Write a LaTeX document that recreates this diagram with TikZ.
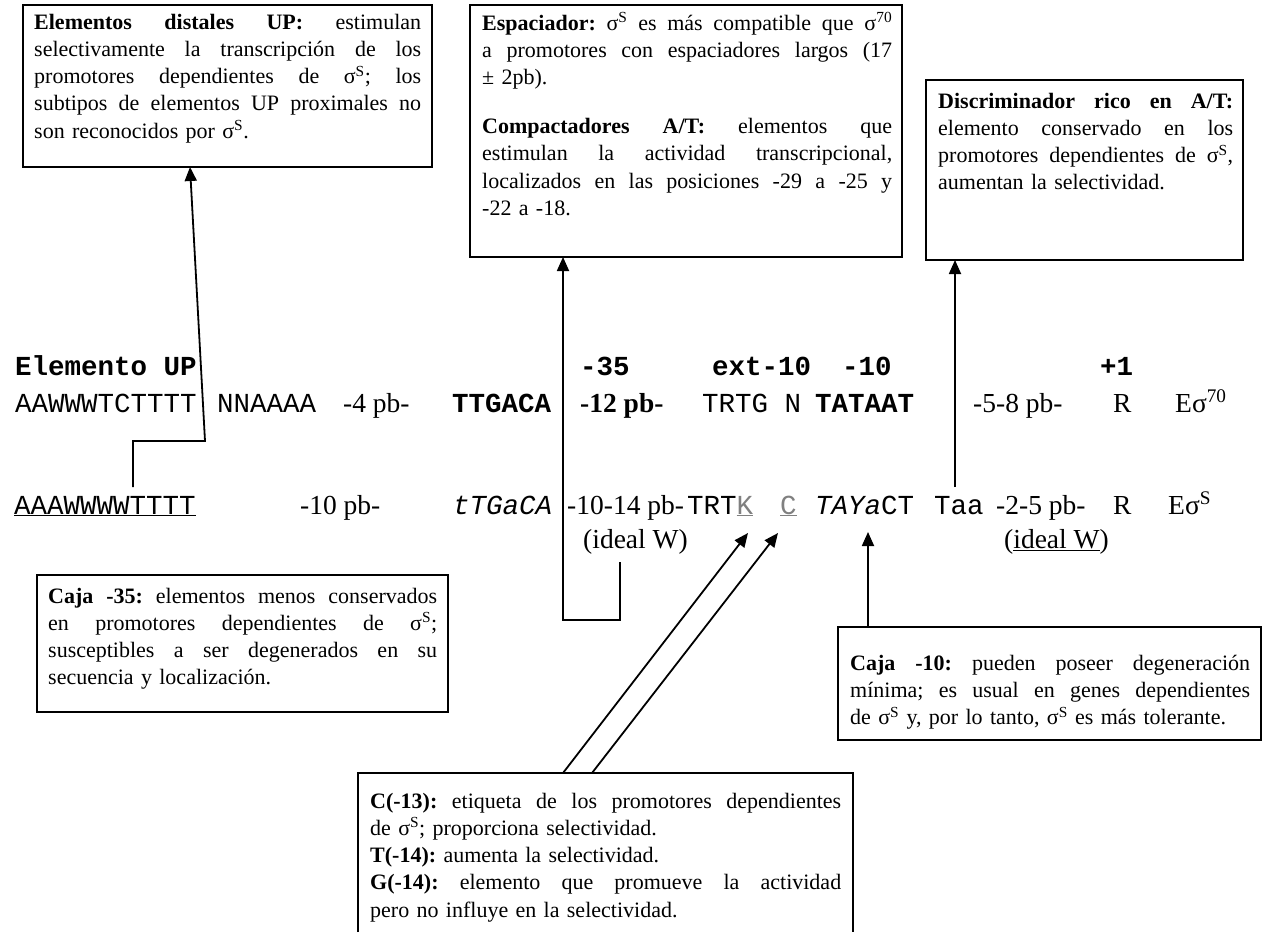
\documentclass[tikz,border=0pt]{standalone}
\usepackage{fontspec}
\setmainfont{Liberation Serif}
\setmonofont{Liberation Mono}
\usetikzlibrary{arrows.meta,calc}
\newcommand\jl[2]{\leavevmode\hbox to #1{\spaceskip=0.25em plus 1fil\relax #2}}
\newcommand\sg[1]{σ\textsuperscript{#1}}
\frenchspacing
\tikzset{
 boxf/.style={draw=black, line width=1.4pt, anchor=north west, inner sep=0pt, outer sep=0pt},
 btxt/.style={anchor=base west, inner sep=0pt, align=left, font=\fontsize{22}{27.3}\selectfont},
 seqm/.style={anchor=base west, inner sep=0pt, font=\fontsize{27.5}{30}\selectfont\ttfamily},
 seqmb/.style={anchor=base west, inner sep=0pt, font=\fontsize{27.5}{30}\selectfont\ttfamily\bfseries},
 seqs/.style={anchor=base west, inner sep=0pt, font=\fontsize{27.5}{30}\selectfont},
 seqsb/.style={anchor=base west, inner sep=0pt, font=\fontsize{27.5}{30}\selectfont\bfseries},
 conn/.style={line width=1.8pt},
 arr/.style={conn, -{Triangle[length=14pt,width=12pt]}},
}
\begin{document}
\begin{tikzpicture}[x=1pt,y=-1pt]
\useasboundingbox (0,0) rectangle (1264,932);
\fill[white] (0,0) rectangle (1264,932);

% ---------- boxes ----------
\node[boxf, minimum width=409pt, minimum height=162pt] (up) at (23,5) {};
\node[btxt, text width=387pt] (upt) at (34,29) {\jl{387pt}{\textbf{Elementos distales UP:} estimulan}\\\jl{387pt}{selectivamente la transcripción de los}\\\jl{387pt}{promotores dependientes de \sg{S}; los}\\\jl{387pt}{subtipos de elementos UP proximales no}\\son reconocidos por \sg{S}.};

\node[boxf, minimum width=432pt, minimum height=252pt] (esp) at (470,5) {};
\node[btxt, text width=410pt] (espt) at (482,30) {\jl{410pt}{\textbf{Espaciador:} \sg{S} es más compatible que \sg{70}}\\\jl{410pt}{a promotores con espaciadores largos (17}\\± 2pb).\\[21.5pt]\jl{410pt}{\textbf{Compactadores A/T:} elementos que}\\\jl{410pt}{estimulan la actividad transcripcional,}\\\jl{410pt}{localizados en las posiciones -29 a -25 y}\\-22 a -18.};

\node[boxf, minimum width=317pt, minimum height=180pt] (disc) at (926,80) {};
\node[btxt, text width=295pt] (disct) at (938,108) {\jl{295pt}{\textbf{Discriminador rico en A/T:}}\\\jl{295pt}{elemento conservado en los}\\\jl{295pt}{promotores dependientes de \sg{S},}\\aumentan la selectividad.};

\node[boxf, minimum width=411pt, minimum height=137pt] (c35) at (37,575) {};
\node[btxt, text width=389pt] (c35t) at (48,603) {\jl{389pt}{\textbf{Caja -35:} elementos menos conservados}\\\jl{389pt}{en promotores dependientes de \sg{S};}\\\jl{389pt}{susceptibles a ser degenerados en su}\\secuencia y localización.};

\node[boxf, minimum width=423pt, minimum height=113pt] (c10) at (838,627) {};
\node[btxt, text width=400pt] (c10t) at (850,670) {\jl{400pt}{\textbf{Caja -10:} pueden poseer degeneración}\\\jl{400pt}{mínima; es usual en genes dependientes}\\de \sg{S} y, por lo tanto, \sg{S} es más tolerante.};

\node[anchor=north west, inner sep=0pt, outer sep=0pt, minimum width=495pt, minimum height=159pt] (cb) at (358,773) {};
\draw[line width=1.4pt] (cb.south west) -- (cb.north west) -- (cb.north east) -- (cb.south east);
\node[btxt, text width=471pt] (cbt) at (370,808) {\jl{471pt}{\textbf{C(-13):} etiqueta de los promotores dependientes}\\de \sg{S}; proporciona selectividad.\\\textbf{T(-14):} aumenta la selectividad.\\\jl{471pt}{\textbf{G(-14):} elemento que promueve la actividad}\\pero no influye en la selectividad.};

% ---------- sequence rows ----------
\node[seqmb] (h1) at (15,375) {Elemento UP};
\node[seqmb] (h2) at (580,375) {-35};
\node[seqmb] (h3) at (712,375) {ext-10};
\node[seqmb] (h4) at (842,375) {-10};
\node[seqmb] (h5) at (1100,375) {+1};

\node[seqm] (a1) at (15,412) {AAWWWTCTTTT};
\node[seqm] (a2) at (217,412) {NNAAAA};
\node[seqs] (a3) at (343,412) {-4 pb-};
\node[seqmb] (a4) at (452,412) {TTGACA};
\node[seqsb] (a5) at (580,412) {-12 pb-};
\node[seqm] (a6) at (702,412) {TRTG N};
\node[seqmb] (a7) at (815,412) {TATAAT};
\node[seqs] (a8) at (973,412) {-5-8 pb-};
\node[seqs] (a9) at (1113,412) {R};
\node[seqs] (a10) at (1175,412) {E\sg{70}};

\node[seqm] (b1) at (14,514) {\underline{AAAWWWWTTTT}};
\node[seqs] (b2) at (300,514) {-10 pb-};
\node[seqm] (b3) at (453,514) {\itshape tTGaCA};
\node[seqs] (b4) at (567,514) {-10-14 pb-};
\node[seqm] (b5) at (687,514) {TRT\textcolor{gray}{\underline{K}}};
\node[seqm] (b6) at (780,514) {\textcolor{gray}{\underline{C}}};
\node[seqm] (b7) at (815,514) {{\itshape TAYa}CT};
\node[seqm] (b8) at (934,514) {Taa};
\node[seqs] (b9) at (996,514) {-2-5 pb-};
\node[seqs] (b10) at (1113,514) {R};
\node[seqs] (b11) at (1168,514) {E\sg{S}};
\node[seqs] (i1) at (583,548) {(ideal W)};
\node[seqs] (i2) at (1004,548) {(\underline{ideal W})};

% ---------- connectors ----------
\coordinate (upS) at (133,487);
\draw[arr] (upS) -- (133,441) -- (205,441) -- ([xshift=167pt]up.south west);

\coordinate (espS) at (620,562);
\draw[arr] (espS) -- (620,620) -- (563,620) -- ([xshift=93pt]esp.south west);

\coordinate (discS) at (955,487);
\draw[arr] (discS) -- ([xshift=29pt]disc.south west);

\coordinate (c10E) at (868,532);
\draw[arr] ([xshift=30pt]c10.north west) -- (c10E);

\coordinate (kE) at (748,533);
\coordinate (cE) at (778,533);
\draw[arr] ([xshift=205pt]cb.north west) -- (kE);
\draw[arr] ([xshift=234pt]cb.north west) -- (cE);
\end{tikzpicture}
\end{document}
